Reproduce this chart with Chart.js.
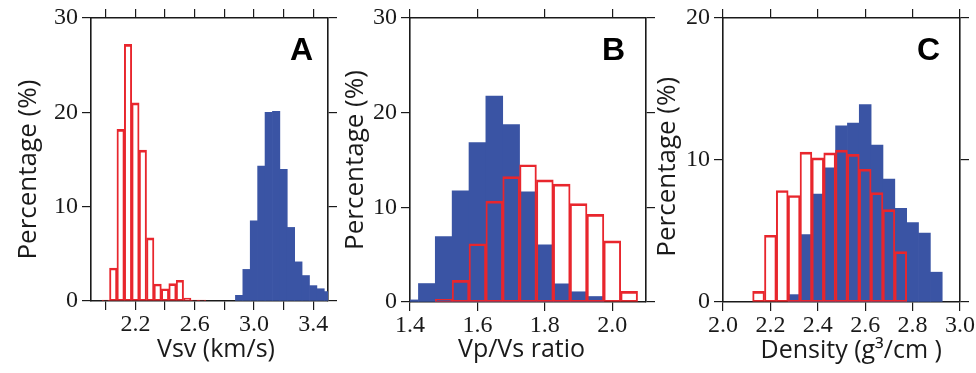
<!DOCTYPE html>
<html>
<head>
<meta charset="utf-8">
<script src="https://cdn.jsdelivr.net/npm/chart.js@4.4.1/dist/chart.umd.min.js"></script>
<style>
  body { margin: 0; background: #fff; }
  #wrap { position: relative; width: 976px; height: 373px; overflow: hidden; }
  canvas { position: absolute; top: 0; }
</style>
</head>
<body>
<div id="wrap">
  <canvas id="panelA" width="345" height="373" style="left:0px"></canvas>
  <canvas id="panelB" width="325" height="373" style="left:335px"></canvas>
  <canvas id="panelC" width="326" height="373" style="left:650px"></canvas>
</div>
<script>
// A: Vsv (km/s), bin centres and percentages
var vsvRedBins  = [2.00, 2.05, 2.10, 2.15, 2.20, 2.25, 2.30, 2.35, 2.40, 2.45, 2.50, 2.55, 2.60, 2.65];
var vsvRedPct   = [0.1, 3.5, 18.2, 27.2, 21.0, 16.0, 6.7, 1.8, 1.3, 1.85, 2.2, 0.3, 0.1, 0.1];
var vsvBlueBins = [2.90, 2.95, 3.00, 3.05, 3.10, 3.15, 3.20, 3.25, 3.30, 3.35, 3.40, 3.45, 3.50];
var vsvBluePct  = [0.6, 3.35, 8.5, 14.3, 20.0, 20.1, 13.95, 7.8, 4.15, 2.7, 1.63, 1.3, 1.0];
var vsvTicks    = [2.0, 2.2, 2.4, 2.6, 2.8, 3.0, 3.2, 3.4];
var vsvLabels   = [2.2, 2.6, 3.0, 3.4];

// B: Vp/Vs ratio
var vpvsBlueBins = [1.40, 1.45, 1.50, 1.55, 1.60, 1.65, 1.70, 1.75, 1.80, 1.85, 1.90, 1.95];
var vpvsBluePct  = [0.22, 1.95, 6.92, 11.75, 16.85, 21.75, 18.75, 11.65, 6.05, 1.92, 1.08, 0.58];
var vpvsRedBins  = [1.50, 1.55, 1.60, 1.65, 1.70, 1.75, 1.80, 1.85, 1.90, 1.95, 2.00, 2.05];
var vpvsRedPct   = [0.28, 2.28, 6.15, 10.65, 13.25, 14.5, 12.9, 12.45, 10.4, 9.25, 6.45, 1.12];
var vpvsTicks    = [1.4, 1.6, 1.8, 2.0];
var vpvsLabels   = [1.4, 1.6, 1.8, 2.0];

// C: Density
var denRedBins  = [2.15, 2.20, 2.25, 2.30, 2.35, 2.40, 2.45, 2.50, 2.55, 2.60, 2.65, 2.70, 2.75];
var denRedPct   = [0.75, 4.7, 7.85, 7.5, 10.55, 10.15, 10.5, 10.7, 10.4, 9.35, 7.7, 6.5, 3.55];
var denBlueBins = [2.30, 2.35, 2.40, 2.45, 2.50, 2.55, 2.60, 2.65, 2.70, 2.75, 2.80, 2.85, 2.90];
var denBluePct  = [0.52, 4.75, 7.6, 9.45, 12.4, 12.6, 13.9, 11.05, 8.65, 6.6, 5.6, 4.85, 2.1];
var denTicks    = [2.0, 2.2, 2.4, 2.6, 2.8, 3.0];
var denLabels   = [2.0, 2.2, 2.4, 2.6, 2.8, 3.0];

var BLUE = "#3a54a4";
var RED = "#e8262d";
var INK = "#1a1a1a";

Chart.defaults.font.family = '"Liberation Serif", serif';
Chart.defaults.color = INK;

var panelLetter = {
  id: "panelLetter",
  afterDraw: function (chart, args, opts) {
    var ctx = chart.ctx, area = chart.chartArea;
    ctx.save();
    ctx.font = 'bold 32px "Liberation Sans", sans-serif';
    ctx.textAlign = "right";
    ctx.textBaseline = "alphabetic";
    ctx.fillStyle = "#000";
    ctx.fillText(opts.text, area.right - opts.dx, area.top + 42);
    ctx.restore();
  }
};

function pts(bins, pct) {
  return bins.map(function (b, i) { return { x: b, y: pct[i] }; });
}

function edge(pos, ticks, size, extra) {
  var s = {
    type: "linear",
    position: pos,
    min: extra.min,
    max: extra.max,
    offset: false,
    grid: { display: true, offset: false, drawOnChartArea: false, drawTicks: true, tickLength: 9, color: INK, lineWidth: 1.2 },
    border: { display: true, color: INK, width: 1.6 },
    afterBuildTicks: function (sc) { sc.ticks = ticks.map(function (v) { return { value: v }; }); },
    afterFit: function (sc) {
      if (pos === "left" || pos === "right") sc.width = size; else sc.height = size;
      sc.paddingLeft = 0; sc.paddingRight = 0; sc.paddingTop = 0; sc.paddingBottom = 0;
    },
    ticks: { display: false, autoSkip: false, maxRotation: 0 }
  };
  return s;
}

function makePanel(id, p) {
  var xs = edge("bottom", p.xTicks, 373 - p.bottom, { min: p.xMin, max: p.xMax });
  xs.ticks = {
    display: true, autoSkip: false, maxRotation: 0, padding: 0,
    font: { size: 24 },
    callback: function (v) {
      var r = Math.round(v * 10) / 10;
      return p.xLabels.indexOf(r) >= 0 ? r.toFixed(1) : "";
    }
  };
  xs.title = {
    display: true, text: p.xTitle, color: INK,
    font: { family: '"Open Sans", sans-serif', size: 25 },
    padding: { top: 0, bottom: p.xTitlePad }
  };

  var ys = edge("left", p.yTicks, p.left, { min: 0, max: p.yMax });
  ys.ticks = { display: true, autoSkip: false, padding: 4, font: { size: 24 } };
  ys.title = {
    display: true, text: p.yTitle, color: INK,
    font: { family: '"Open Sans", sans-serif', size: 26 },
    padding: { top: p.yTitlePad, bottom: 0 }
  };

  new Chart(id, {
    type: "bar",
    data: {
      datasets: [{
        data: pts(p.redBins, p.redPct),
        backgroundColor: "rgba(255,255,255,0)",
        borderColor: RED,
        borderWidth: { top: 2, bottom: 1, left: 1.3, right: 1.3 },
        borderSkipped: false,
        grouped: false,
        barPercentage: 1,
        categoryPercentage: 1,
        order: 0
      }, {
        data: pts(p.blueBins, p.bluePct),
        backgroundColor: BLUE,
        borderWidth: 0,
        grouped: false,
        barPercentage: 1,
        categoryPercentage: 1,
        order: 1
      }]
    },
    options: {
      responsive: false,
      animation: false,
      layout: { padding: 0 },
      plugins: {
        legend: { display: false },
        tooltip: { enabled: false },
        panelLetter: { text: p.letter, dx: p.letterDx }
      },
      scales: {
        x: xs,
        x2: edge("top", p.xTicks, p.top, { min: p.xMin, max: p.xMax }),
        y: ys,
        y2: edge("right", p.yTicks, p.width - p.right, { min: 0, max: p.yMax })
      }
    },
    plugins: [panelLetter]
  });
}

makePanel("panelA", {
  width: 345, left: 91, right: 328, top: 18, bottom: 301,
  xMin: 1.9, xMax: 3.5, xTicks: vsvTicks, xLabels: vsvLabels,
  yMax: 30, yTicks: [0, 10, 20, 30],
  redBins: vsvRedBins, redPct: vsvRedPct, blueBins: vsvBlueBins, bluePct: vsvBluePct,
  xTitle: "  Vsv (km/s)", xTitlePad: 8,
  yTitle: "Percentage (%)   ", yTitlePad: 13,
  letter: "A", letterDx: 15
});

makePanel("panelB", {
  width: 325, left: 75, right: 311, top: 18, bottom: 302,
  xMin: 1.4, xMax: 2.1, xTicks: vpvsTicks, xLabels: vpvsLabels,
  yMax: 30, yTicks: [0, 10, 20, 30],
  redBins: vpvsRedBins, redPct: vpvsRedPct, blueBins: vpvsBlueBins, bluePct: vpvsBluePct,
  xTitle: "Vp/Vs ratio  ", xTitlePad: 8,
  yTitle: "Percentage (%)", yTitlePad: 5,
  letter: "B", letterDx: 21
});

makePanel("panelC", {
  width: 326, left: 73, right: 310, top: 18, bottom: 302,
  xMin: 2.0, xMax: 3.0, xTicks: denTicks, xLabels: denLabels,
  yMax: 20, yTicks: [0, 10, 20],
  redBins: denRedBins, redPct: denRedPct, blueBins: denBlueBins, bluePct: denBluePct,
  xTitle: "   Density (g³/cm )", xTitlePad: 7,
  yTitle: "Percentage (%)  ", yTitlePad: 2,
  letter: "C", letterDx: 20
});
</script>
</body>
</html>
